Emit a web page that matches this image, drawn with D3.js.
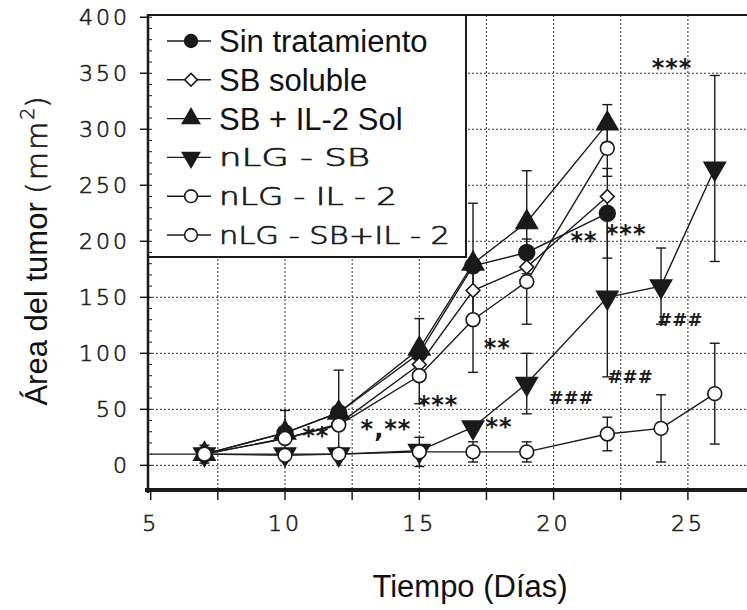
<!DOCTYPE html>
<html>
<head>
<meta charset="utf-8">
<script src="https://cdn.jsdelivr.net/npm/d3@7/dist/d3.min.js"></script>
<style>
  html, body { margin: 0; padding: 0; background: #fff; }
  svg { display: block; }
</style>
</head>
<body>
<svg id="chart" width="747" height="610"></svg>
<script>
// Measurement days and tumour area (mm²) per treatment group
const days = [7, 10, 12, 15, 17, 19, 22, 24, 26];

const sinTratamiento    = [10, 29, 47, 100, 178, 190, 225];
const sinTratamientoErr = [8, null, null, null, null, null, 40];

const sbSoluble    = [10, 24, 37, 90, 156, 177, 240];
const sbSolubleErr = [null, null, null, null, null, null, null];

const sbIl2Sol    = [10, 29, 47, 104, 180, 217, 305];
const sbIl2SolErr = [null, 20, 38, 27, 54, 46, 17];

const nlgSb    = [10, 10, 10, 13, 34, 73, 150, 160, 265];
const nlgSbErr = [null, null, null, null, null, 27, 71, 34, 83];

const nlgIl2    = [10, 24, 36, 80, 130, 164, 283];
const nlgIl2Err = [null, null, null, 25, 47, 38, 25];

const nlgSbIl2    = [10, 9, 10, 12, 12, 12, 28, 33, 64];
const nlgSbIl2Err = [null, null, null, 13, 9, 9, 15, 30, 45];
// day-5 starting value of the nLG-SB+IL-2 trace
const nlgSbIl2Start = { day: 5, area: 10 };

const legendLabels = ["Sin tratamiento", "SB soluble", "SB + IL-2 Sol", "nLG - SB", "nLG - IL - 2", "nLG - SB+IL - 2"];

const xTicks = [5, 10, 15, 20, 25];
const xMinorTicks = [5, 7.5, 10, 12.5, 15, 17.5, 20, 22.5, 25];
const yTicks = [0, 50, 100, 150, 200, 250, 300, 350, 400];

// Significance marks: [day, area, text]
const marks = [
  [11.15, 29, "**"],
  [13.76, 35, "*,**"],
  [15.7, 57, "***"],
  [17.9, 108, "**"],
  [17.97, 37, "**"],
  [21.13, 203, "**"],
  [22.7, 209, "***"],
  [24.41, 358, "***"],
  [20.65, 60, "###"],
  [22.85, 79, "###"],
  [24.7, 130, "###"]
];

const series = [
  { name: legendLabels[0], values: sinTratamiento, err: sinTratamientoErr, symbol: "circle", filled: true },
  { name: legendLabels[1], values: sbSoluble, err: sbSolubleErr, symbol: "diamond", filled: false },
  { name: legendLabels[2], values: sbIl2Sol, err: sbIl2SolErr, symbol: "triangle", filled: true },
  { name: legendLabels[3], values: nlgSb, err: nlgSbErr, symbol: "triangleDown", filled: true },
  { name: legendLabels[4], values: nlgIl2, err: nlgIl2Err, symbol: "circle", filled: false },
  { name: legendLabels[5], values: nlgSbIl2, err: nlgSbIl2Err, symbol: "circle", filled: false, start: nlgSbIl2Start }
];

const INK = "#1a1a1a";
const WIDE = "'DejaVu Sans ExtraLight', 'DejaVu Sans Light', 'DejaVu Sans', sans-serif";
const SANS = "'Liberation Sans', Arial, sans-serif";

// thin-lettered text gets a hairline outline for a bit more weight
function wideInk(sel, w) {
  return sel.attr("font-family", WIDE).attr("fill", INK)
    .attr("stroke", INK).attr("stroke-width", w).attr("paint-order", "stroke");
}

const svg = d3.select("#chart");
svg.append("rect").attr("width", 747).attr("height", 610).attr("fill", "#fff");

const x = d3.scaleLinear().domain([4.9, 27.2]).range([148, 747]);
const y = d3.scaleLinear().domain([-22, 402]).range([490, 15]);

const plot = svg.append("g");

// dotted grid
const gridX = d3.range(7.5, 27.6, 2.5);
const gridY = d3.range(0, 351, 50);
plot.selectAll("line.gx").data(gridX).join("line")
  .attr("x1", d => x(d)).attr("x2", d => x(d))
  .attr("y1", y(402)).attr("y2", y(-22))
  .attr("stroke", "#333").attr("stroke-width", 1).attr("stroke-dasharray", "2,2");
plot.selectAll("line.gy").data(gridY).join("line")
  .attr("x1", x(4.9)).attr("x2", 747)
  .attr("y1", d => y(d)).attr("y2", d => y(d))
  .attr("stroke", "#333").attr("stroke-width", 1).attr("stroke-dasharray", "2,2");

// legend box sits over the grid
const legend = svg.append("g");
legend.append("rect")
  .attr("x", 148).attr("y", 15).attr("width", 318).attr("height", 242)
  .attr("fill", "#fff").attr("stroke", INK).attr("stroke-width", 2);

// symbol helpers
function symbolPath(kind, scale) {
  const s = scale || 1;
  if (kind === "circle") return d3.symbol(d3.symbolCircle, 150 * s)();
  if (kind === "diamond") return d3.symbol(d3.symbolSquare, 95 * s)();
  return d3.symbol(d3.symbolTriangle, 150 * s)();
}
function symbolRotation(kind) {
  if (kind === "diamond") return 45;
  if (kind === "triangleDown") return 180;
  return 0;
}
function drawSymbol(g, s, cx, cy, scale) {
  g.append("path")
    .attr("d", symbolPath(s.symbol, scale))
    .attr("transform", `translate(${cx},${cy}) rotate(${symbolRotation(s.symbol)})`)
    .attr("fill", s.filled ? INK : "#fff")
    .attr("stroke", INK)
    .attr("stroke-width", 1.6);
}

const line = d3.line().x(d => x(d.day)).y(d => y(d.area));

series.forEach(s => {
  s.points = s.values.map((v, i) => ({ day: days[i], area: v, err: s.err[i] }));
});

// traces
series.forEach(s => {
  const pts = s.start ? [s.start].concat(s.points) : s.points;
  plot.append("path")
    .attr("d", line(pts))
    .attr("fill", "none")
    .attr("stroke", INK)
    .attr("stroke-width", 1.4);
});

// error bars
series.forEach(s => {
  s.points.filter(p => p.err != null).forEach(p => {
    const g = plot.append("g").attr("stroke", INK).attr("stroke-width", 1.4);
    const cx = x(p.day);
    g.append("line").attr("x1", cx).attr("x2", cx).attr("y1", y(p.area + p.err)).attr("y2", y(p.area - p.err));
    g.append("line").attr("x1", cx - 5).attr("x2", cx + 5).attr("y1", y(p.area + p.err)).attr("y2", y(p.area + p.err));
    g.append("line").attr("x1", cx - 5).attr("x2", cx + 5).attr("y1", y(p.area - p.err)).attr("y2", y(p.area - p.err));
  });
});

// markers
series.forEach(s => {
  const g = plot.append("g");
  s.points.forEach(p => drawSymbol(g, s, x(p.day), y(p.area), s.filled ? 1.3 : 1));
});

// significance marks
plot.selectAll("text.mark").data(marks).join("text")
  .attr("x", d => x(d[0])).attr("y", d => y(d[1]))
  .attr("text-anchor", "middle")
  .attr("dy", d => d[2].startsWith("#") ? "0.35em" : "0.47em")
  .attr("font-family", "'DejaVu Sans', sans-serif")
  .attr("font-weight", "bold")
  .attr("font-size", d => d[2].startsWith("#") ? 18 : 24)
  .attr("letter-spacing", d => d[2].startsWith("#") ? 0 : 1)
  .attr("fill", INK)
  .text(d => d[2]);

// frame and axes
svg.append("line").attr("x1", 148).attr("x2", 747).attr("y1", 15).attr("y2", 15)
  .attr("stroke", INK).attr("stroke-width", 2);
svg.append("line").attr("x1", 148).attr("x2", 148).attr("y1", 14).attr("y2", 493)
  .attr("stroke", INK).attr("stroke-width", 2.5);
svg.append("line").attr("x1", 145).attr("x2", 747).attr("y1", 490).attr("y2", 490)
  .attr("stroke", INK).attr("stroke-width", 4);

// y ticks and labels
const yAxis = svg.append("g");
yAxis.selectAll("line.major").data(yTicks).join("line")
  .attr("x1", 140).attr("x2", 148).attr("y1", d => y(d)).attr("y2", d => y(d))
  .attr("stroke", INK).attr("stroke-width", 1.5);
yAxis.selectAll("line.minor").data(d3.range(0, 401, 10)).join("line")
  .attr("x1", 148).attr("x2", 152).attr("y1", d => y(d)).attr("y2", d => y(d))
  .attr("stroke", INK).attr("stroke-width", 1);
wideInk(yAxis.selectAll("text").data(yTicks).join("text"), 0.6)
  .attr("x", 130).attr("y", d => y(d)).attr("dy", "0.36em")
  .attr("text-anchor", "end")
  .attr("font-size", 22).attr("letter-spacing", 3)
  .text(d => d);

// x ticks and labels
const xAxis = svg.append("g");
xAxis.selectAll("line").data(xMinorTicks).join("line")
  .attr("x1", d => x(d)).attr("x2", d => x(d)).attr("y1", 490).attr("y2", 500)
  .attr("stroke", INK).attr("stroke-width", 1.5);
wideInk(xAxis.selectAll("text").data(xTicks).join("text"), 0.6)
  .attr("x", d => x(d)).attr("y", 531)
  .attr("text-anchor", "middle")
  .attr("font-size", 22).attr("letter-spacing", 3)
  .text(d => d);

// axis titles
svg.append("text")
  .attr("x", 470).attr("y", 597).attr("text-anchor", "middle")
  .attr("font-family", SANS).attr("font-size", 31).attr("fill", "#111")
  .text("Tiempo (Días)");

const yt = svg.append("text")
  .attr("transform", "translate(47,251) rotate(-90)")
  .attr("text-anchor", "middle")
  .attr("fill", "#111");
yt.append("tspan").attr("font-family", SANS).attr("font-size", 31).text("Área del tumor ");
wideInk(yt.append("tspan"), 0.6).attr("font-size", 29).attr("letter-spacing", 2).text("(mm");
wideInk(yt.append("tspan"), 0.5).attr("font-size", 19).attr("dy", -13).text("2");
wideInk(yt.append("tspan"), 0.6).attr("font-size", 29).attr("dy", 13).text(")");

// legend entries
const rowY = d3.scaleLinear().domain([0, 5]).range([41, 235]);
const wideLengths = [null, null, null, 151, 178, 231];
series.forEach((s, i) => {
  const cy = rowY(i);
  legend.append("line").attr("x1", 167).attr("x2", 211).attr("y1", cy).attr("y2", cy)
    .attr("stroke", INK).attr("stroke-width", 1.4);
  drawSymbol(legend, s, 191, cy, 0.85);
  const t = legend.append("text")
    .attr("x", 219).attr("y", cy).attr("dy", "0.36em")
    .attr("fill", "#111")
    .text(s.name);
  if (i < 3) {
    t.attr("font-family", SANS).attr("font-size", 31);
  } else {
    wideInk(t, 0.7).attr("font-size", 24)
      .attr("textLength", wideLengths[i]).attr("lengthAdjust", "spacingAndGlyphs");
  }
});
</script>
</body>
</html>
